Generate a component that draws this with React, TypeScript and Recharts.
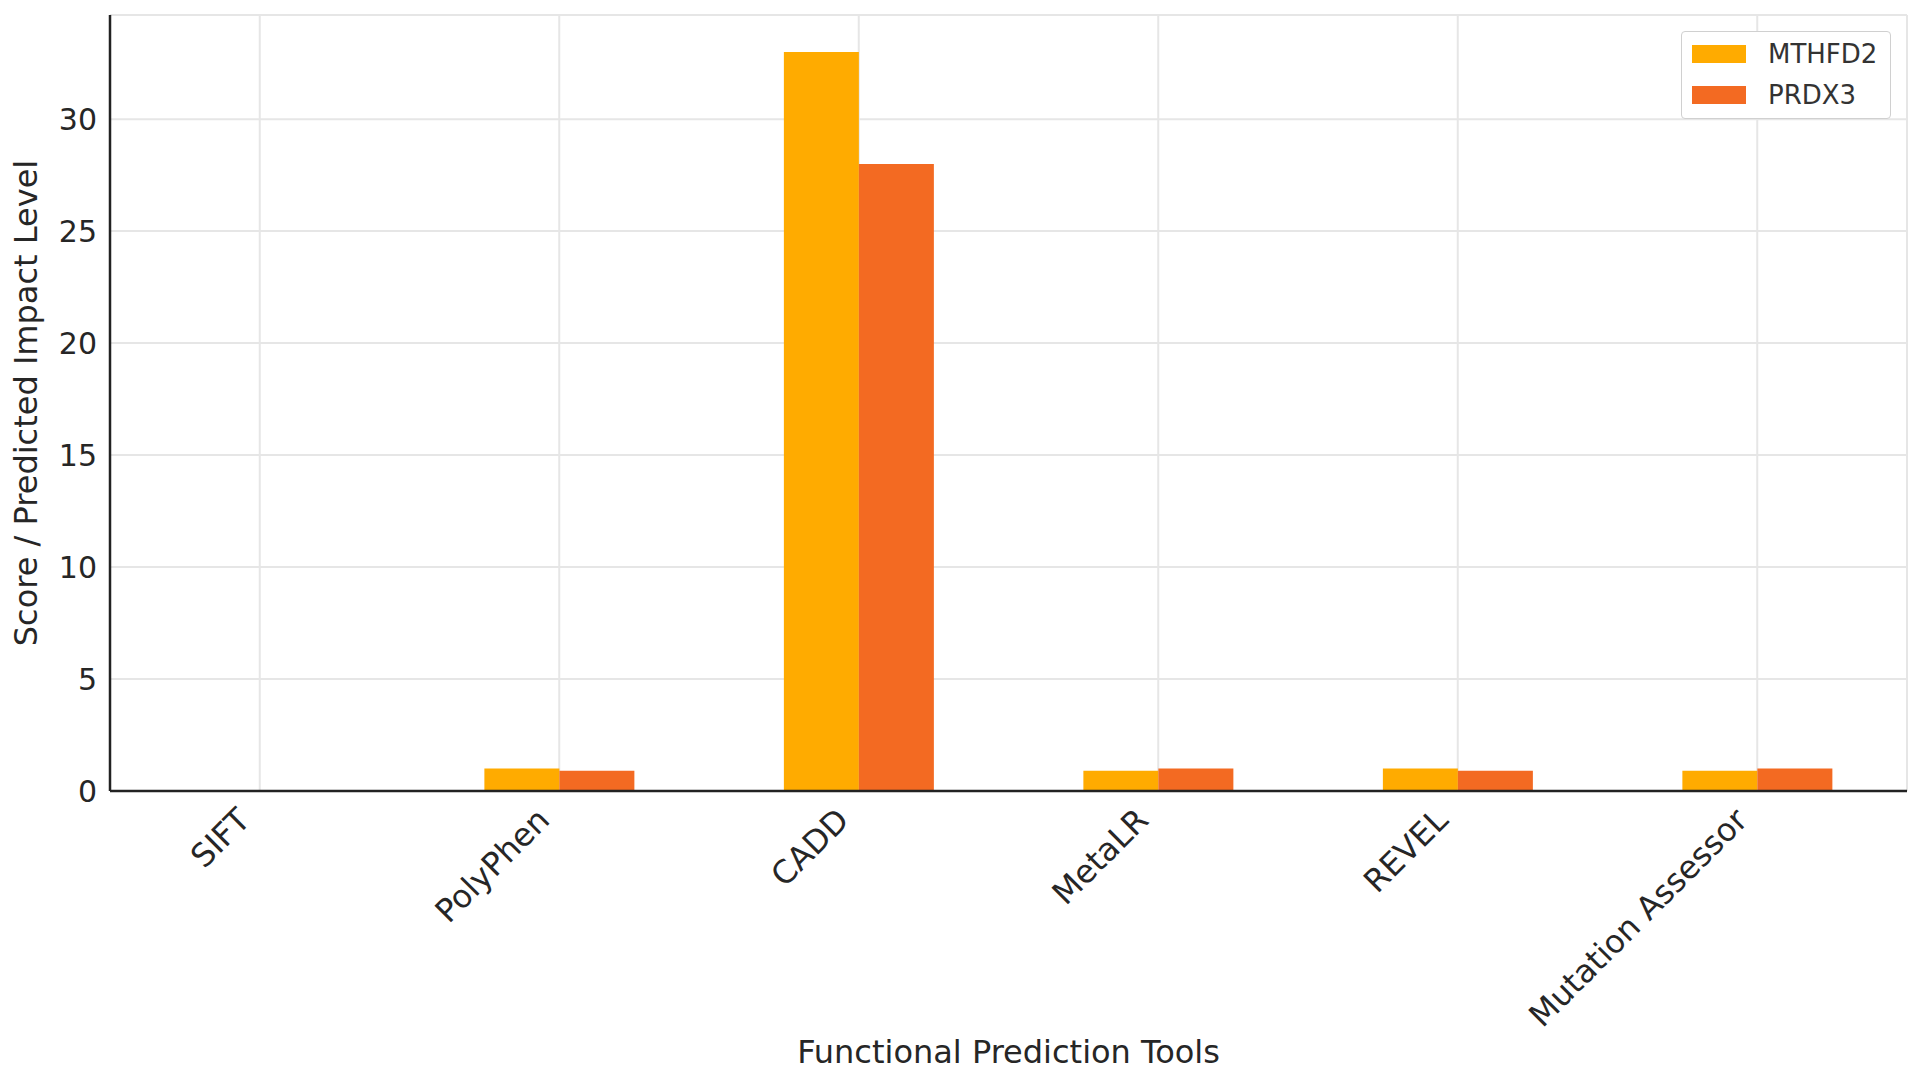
import React from "react";
import {
  Bar,
  BarChart,
  CartesianGrid,
  Label,
  Legend,
  XAxis,
  YAxis,
} from "recharts";

const tools = ["SIFT", "PolyPhen", "CADD", "MetaLR", "REVEL", "Mutation Assessor"];
const mthfd2 = [0, 1, 33, 0.9, 1, 0.9];
const prdx3 = [0, 0.9, 28, 1, 0.9, 1];
const yTicks = [0, 5, 10, 15, 20, 25, 30];

const data = tools.map((tool, i) => ({
  tool,
  MTHFD2: mthfd2[i],
  PRDX3: prdx3[i],
}));

const FONT = "'DejaVu Sans', sans-serif";
const TEXT = "#262626";

function RotatedTick({ x, y, payload }: any) {
  const tx = x - 8;
  const ty = y + 31;
  return (
    <text
      x={tx}
      y={ty}
      transform={`rotate(-45, ${tx}, ${ty})`}
      textAnchor="end"
      fontFamily={FONT}
      fontSize={32}
      fill={TEXT}
    >
      {payload.value}
    </text>
  );
}

function LegendBox({ payload }: any) {
  return (
    <div
      style={{
        width: 210,
        height: 88,
        border: "1.5px solid #d0d0d0",
        borderRadius: 4,
        background: "#fff",
        boxSizing: "border-box",
        paddingTop: 1,
        fontFamily: FONT,
        fontSize: 26,
        color: "#333",
        textAlign: "left",
      }}
    >
      {payload.map((p: any) => (
        <div
          key={p.value}
          style={{ display: "flex", alignItems: "center", height: 41 }}
        >
          <span
            style={{
              display: "inline-block",
              width: 54,
              height: 18,
              marginLeft: 10,
              marginRight: 22,
              background: p.color,
            }}
          />
          <span>{p.value}</span>
        </div>
      ))}
    </div>
  );
}

export default function App() {
  return (
    <div style={{ position: "absolute", left: 0, top: 0, background: "#fff" }}>
      <BarChart
        width={1920}
        height={1072}
        data={data}
        margin={{ top: 15, right: 13, left: 0, bottom: 0 }}
        barCategoryGap="25%"
        barGap={0}
      >
        <CartesianGrid stroke="#e6e6e6" strokeWidth={2} />
        <XAxis
          dataKey="tool"
          height={281}
          tick={<RotatedTick />}
          tickLine={false}
          tickSize={0}
          tickMargin={0}
          axisLine={{ stroke: "#222", strokeWidth: 2.5 }}
          interval={0}
        >
          <Label
            value="Functional Prediction Tools"
            position="insideBottom"
            offset={9}
            style={{ fontFamily: FONT, fontSize: 32, fill: TEXT }}
          />
        </XAxis>
        <YAxis
          width={110}
          domain={[0, 34.65]}
          ticks={yTicks}
          tickLine={false}
          tickSize={6}
          tickMargin={7}
          axisLine={{ stroke: "#222", strokeWidth: 2.5 }}
          tick={{ fontFamily: FONT, fontSize: 30, fill: TEXT }}
        >
          <Label
            value="Score / Predicted Impact Level"
            angle={-90}
            position="insideLeft"
            offset={26}
            style={{ fontFamily: FONT, fontSize: 32, fill: TEXT, textAnchor: "middle" }}
          />
        </YAxis>
        <Legend
          layout="horizontal"
          verticalAlign="middle"
          align="center"
          content={<LegendBox />}
          wrapperStyle={{ top: 31, left: 1681, width: 210 }}
        />
        <Bar dataKey="MTHFD2" fill="#FFAB00" isAnimationActive={false} />
        <Bar dataKey="PRDX3" fill="#F36A22" isAnimationActive={false} />
      </BarChart>
    </div>
  );
}
